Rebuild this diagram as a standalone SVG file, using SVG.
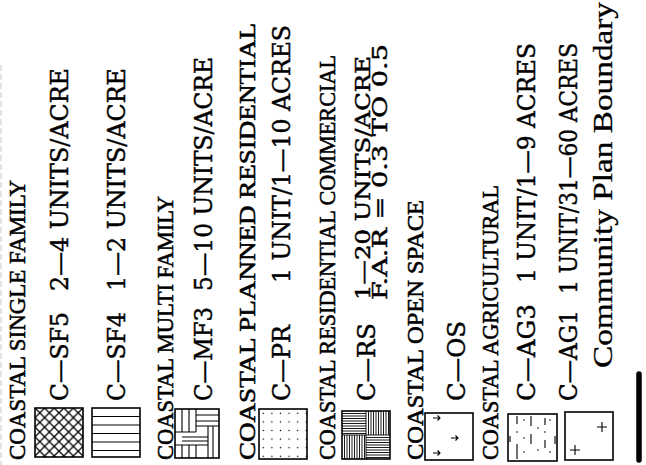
<svg xmlns="http://www.w3.org/2000/svg" width="646" height="465" viewBox="0 0 646 465">
<style>
text{font-family:"DejaVu Serif","Liberation Serif",serif;fill:#000;stroke:#000;stroke-width:0.45}
.h{font-family:"Liberation Serif","Times New Roman",serif;font-size:23.5px;stroke-width:0.55}
.c{font-size:25px}
.s{font-size:20px}
.b{font-family:"Liberation Serif","Times New Roman",serif;font-size:28px;stroke-width:0.3}
.box{fill:none;stroke:#000;stroke-width:1.6}
.ln{stroke:#000;stroke-width:1.1;fill:none}
.fine{stroke:#000;stroke-width:0.9;fill:none}
</style>
<defs>
<pattern id="xh" patternUnits="userSpaceOnUse" x="35" y="408" width="9.6" height="9.6">
<path d="M0,0L9.6,9.6M0,9.6L9.6,0" stroke="#000" stroke-width="1.3"/>
</pattern>
<pattern id="dots" patternUnits="userSpaceOnUse" x="259" y="409" width="8.6" height="8.6">
<circle cx="4.3" cy="4.3" r="0.75" fill="#000"/>
</pattern>
</defs>
<rect width="646" height="465" fill="#fff"/>
<line x1="1" y1="65" x2="1" y2="465" stroke="#c8c8c8" stroke-width="1" stroke-dasharray="6 3"/>

<g id="heading-single-family">
<text class="h" transform="translate(25,460) rotate(-90)" textLength="280" lengthAdjust="spacingAndGlyphs">COASTAL SINGLE FAMILY</text>
</g>

<g id="item-c-sf5">
<rect x="35" y="408" width="48" height="49" fill="url(#xh)"/>
<rect class="box" x="35" y="408" width="48" height="49"/>
<text class="c" transform="translate(68,401) rotate(-90)" textLength="89" lengthAdjust="spacingAndGlyphs">C—SF5</text>
<text class="c" transform="translate(68,291) rotate(-90)" textLength="223" lengthAdjust="spacingAndGlyphs">2—4 UNITS/ACRE</text>
</g>

<g id="item-c-sf4">
<rect class="box" x="92" y="408" width="48" height="49"/>
<path class="ln" d="M92,416.5H140M92,425H140M92,433.5H140M92,442H140M92,450.5H140"/>
<text class="c" transform="translate(125,401) rotate(-90)" textLength="89" lengthAdjust="spacingAndGlyphs">C—SF4</text>
<text class="c" transform="translate(125,291) rotate(-90)" textLength="223" lengthAdjust="spacingAndGlyphs">1—2 UNITS/ACRE</text>
</g>

<g id="heading-multi-family">
<text class="h" transform="translate(173,460) rotate(-90)" textLength="264" lengthAdjust="spacingAndGlyphs">COASTAL MULTI FAMILY</text>
</g>

<g id="item-c-mf3">
<rect class="box" x="175" y="409" width="44" height="49"/>
<path class="ln" d="M182,409V432M189,409V432M196,409V432M175,432H196M196,415H219M196,421H219M196,426H219M208,426V458M213,426V458M182,437H208M182,441H208M175,445H208M182,445V458M189,445V458M196,445V458"/>
<text class="c" transform="translate(212,401) rotate(-90)" textLength="94" lengthAdjust="spacingAndGlyphs">C—MF3</text>
<text class="c" transform="translate(212,291) rotate(-90)" textLength="234" lengthAdjust="spacingAndGlyphs">5—10 UNITS/ACRE</text>
</g>

<g id="heading-planned-residential">
<text class="h" transform="translate(255,460) rotate(-90)" textLength="437" lengthAdjust="spacingAndGlyphs">COASTAL PLANNED RESIDENTIAL</text>
</g>

<g id="item-c-pr">
<rect x="259" y="409" width="48" height="50" fill="url(#dots)"/>
<rect class="box" x="259" y="409" width="48" height="50"/>
<text class="c" transform="translate(290,401) rotate(-90)" textLength="76" lengthAdjust="spacingAndGlyphs">C—PR</text>
<text class="c" transform="translate(290,283) rotate(-90)" textLength="258" lengthAdjust="spacingAndGlyphs">1 UNIT/1—10 ACRES</text>
</g>

<g id="heading-residential-commercial">
<text class="h" transform="translate(335,460) rotate(-90)" textLength="405" lengthAdjust="spacingAndGlyphs">COASTAL RESIDENTIAL COMMERCIAL</text>
</g>

<g id="item-c-rs">
<rect class="box" x="342" y="411" width="48" height="48"/>
<path class="fine" d="M342,413.5H366M342,416H366M342,418.5H366M342,421H366M342,423.5H366M342,426H366M342,428.5H366M342,431H366M342,433.5H366
M368.5,411V435M371,411V435M373.5,411V435M376,411V435M378.5,411V435M381,411V435M383.5,411V435M386,411V435M388.5,411V435
M344.5,435V459M347,435V459M349.5,435V459M352,435V459M354.5,435V459M357,435V459M359.5,435V459M362,435V459M364.5,435V459
M366,437.5H390M366,440H390M366,442.5H390M366,445H390M366,447.5H390M366,450H390M366,452.5H390M366,455H390M366,457.5H390
M342,435H390M366,411V459"/>
<text class="c" transform="translate(375,401) rotate(-90)" textLength="78" lengthAdjust="spacingAndGlyphs">C—RS</text>
<text class="s" transform="translate(370,300) rotate(-90)" textLength="244" lengthAdjust="spacingAndGlyphs">1—20 UNITS/ACRE</text>
<text class="s" transform="translate(387,300) rotate(-90)" textLength="256" lengthAdjust="spacingAndGlyphs">F.A.R = 0.3 TO 0.5</text>
</g>

<g id="heading-open-space">
<text class="h" transform="translate(423,460) rotate(-90)" textLength="260" lengthAdjust="spacingAndGlyphs">COASTAL OPEN SPACE</text>
</g>

<g id="item-c-os">
<rect class="box" x="425" y="413" width="48" height="47"/>
<path class="ln" d="M433,418H440M437.5,415.5L440,418L437.5,420.5M451,438H458M455.5,435.5L458,438L455.5,440.5M433,453H440M437.5,450.5L440,453L437.5,455.5"/>
<text class="c" transform="translate(465,401) rotate(-90)" textLength="80" lengthAdjust="spacingAndGlyphs">C—OS</text>
</g>

<g id="heading-agricultural">
<text class="h" transform="translate(498,460) rotate(-90)" textLength="275" lengthAdjust="spacingAndGlyphs">COASTAL AGRICULTURAL</text>
</g>

<g id="item-c-ag3">
<rect class="box" x="508" y="414" width="49" height="47"/>
<path class="ln" d="M517,416V424M517,444V459M531,416V426M531,434V444M545,418V425M545,440V448M555,436V444M510,436V442"/>
<g fill="#000"><circle cx="524" cy="420" r="0.8"/><circle cx="524" cy="438" r="0.8"/><circle cx="524" cy="452" r="0.8"/><circle cx="538" cy="428" r="0.8"/><circle cx="538" cy="450" r="0.8"/><circle cx="550" cy="420" r="0.8"/><circle cx="550" cy="452" r="0.8"/><circle cx="517" cy="432" r="0.8"/><circle cx="545" cy="432" r="0.8"/></g>
<text class="c" transform="translate(535,401) rotate(-90)" textLength="97" lengthAdjust="spacingAndGlyphs">C—AG3</text>
<text class="c" transform="translate(535,283) rotate(-90)" textLength="240" lengthAdjust="spacingAndGlyphs">1 UNIT/1—9 ACRES</text>
</g>

<g id="item-c-ag1">
<rect class="box" x="565" y="412" width="48" height="48"/>
<path class="ln" d="M597,427H607M602,422V432M570,450H580M575,445V455"/>
<text class="c" transform="translate(577,401) rotate(-90)" textLength="91" lengthAdjust="spacingAndGlyphs">C—AG1</text>
<text class="c" transform="translate(577,294) rotate(-90)" textLength="251" lengthAdjust="spacingAndGlyphs">1 UNIT/31—60 ACRES</text>
</g>

<g id="item-boundary">
<line x1="639" y1="374" x2="639" y2="460" stroke="#000" stroke-width="5.5" stroke-linecap="round"/>
<text class="b" transform="translate(612,368) rotate(-90)" textLength="366" lengthAdjust="spacingAndGlyphs">Community Plan Boundary</text>
</g>

<g id="connectors"/>
</svg>
